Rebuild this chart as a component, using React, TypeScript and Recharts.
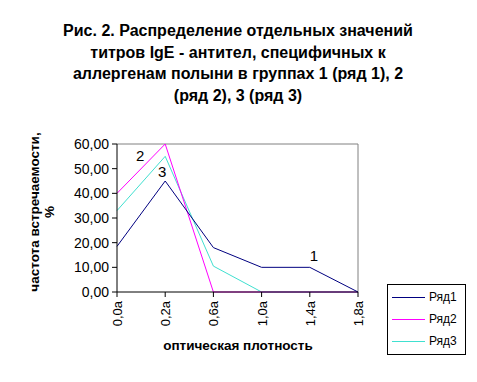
import React from "react";
import { LineChart, Line, XAxis, YAxis, ReferenceLine } from "recharts";

document.body.style.margin = "0";

const CATEGORIES = ["0,0a", "0,2a", "0,6a", "1,0a", "1,4a", "1,8a"];
const SERIES1 = [18.5, 45, 18, 10, 10, 0];
const SERIES2 = [40, 60, 0, 0, 0, 0];
const SERIES3 = [33, 55, 10.5, 0, 0, 0];
const Y_TICKS = [0, 10, 20, 30, 40, 50, 60];
const TITLE_LINES = [
  "Рис. 2. Распределение отдельных значений",
  "титров IgE - антител, специфичных к",
  "аллергенам полыни в группах 1 (ряд 1), 2",
  "(ряд 2), 3 (ряд 3)",
];

const NAVY = "#000080";
const MAGENTA = "#FF00FF";
const CYAN = "#40E0D0";
const FONT = "'Liberation Sans', Arial, sans-serif";

const LEGEND_ITEMS = [
  { name: "Ряд1", color: NAVY },
  { name: "Ряд2", color: MAGENTA },
  { name: "Ряд3", color: CYAN },
];

const data = CATEGORIES.map((c, i) => ({
  cat: c,
  r1: SERIES1[i],
  r2: SERIES2[i],
  r3: SERIES3[i],
}));

function XTick({ x, y, payload }: any) {
  return (
    <text
      x={x}
      y={y}
      transform={`rotate(-90 ${x} ${y})`}
      dx={-2}
      dy={5}
      textAnchor="end"
      fontSize={13}
      fontFamily={FONT}
      fill="#000"
    >
      {payload.value}
    </text>
  );
}

// series number drawn next to one point of its line
function pointLabel(text: string, at: number, dx: number, dy: number) {
  return (props: any) => {
    if (props.index !== at) return null;
    return (
      <text x={props.x + dx} y={props.y + dy} fontSize={15} fontFamily={FONT} fill="#000" textAnchor="middle">
        {text}
      </text>
    );
  };
}

function LegendBox() {
  return (
    <div
      style={{
        position: "absolute",
        left: 387,
        top: 284,
        width: 79,
        height: 71,
        border: "1px solid #000",
        boxSizing: "border-box",
        paddingTop: 1,
        fontFamily: FONT,
        fontSize: 12,
      }}
    >
      {LEGEND_ITEMS.map((p) => (
        <div key={p.name} style={{ display: "flex", alignItems: "center", height: 22 }}>
          <span style={{ display: "block", marginLeft: 4, width: 33, height: 1, background: p.color }} />
          <span style={{ marginLeft: 4 }}>{p.name}</span>
        </div>
      ))}
    </div>
  );
}

export default function App() {
  return (
    <div style={{ position: "relative", width: 477, height: 382, background: "#fff" }}>
      <LineChart width={477} height={382} data={data} margin={{ top: 144, right: 119, bottom: 50, left: 57 }}>
        <XAxis
          dataKey="cat"
          tick={<XTick />}
          tickSize={5}
          height={40}
          axisLine={{ stroke: "#000" }}
          tickLine={{ stroke: "#000" }}
          interval={0}
        />
        <YAxis
          domain={[0, 60]}
          ticks={Y_TICKS}
          width={60}
          tickSize={5}
          tickMargin={3}
          axisLine={{ stroke: "#000" }}
          tickLine={{ stroke: "#000" }}
          tick={{ fontSize: 14, fontFamily: FONT, fill: "#000" }}
          tickFormatter={(v: number) => v.toFixed(2).replace(".", ",")}
        />
        <ReferenceLine y={60} stroke="#808080" />
        <ReferenceLine x="1,8a" stroke="#808080" />
        <Line dataKey="r3" name="Ряд3" stroke={CYAN} strokeWidth={1} dot={false} isAnimationActive={false} label={pointLabel("3", 1, -3, 21)} />
        <Line dataKey="r2" name="Ряд2" stroke={MAGENTA} strokeWidth={1} dot={false} isAnimationActive={false} label={pointLabel("2", 1, -25, 17)} />
        <Line dataKey="r1" name="Ряд1" stroke={NAVY} strokeWidth={1} dot={false} isAnimationActive={false} label={pointLabel("1", 4, 4, -6)} />
        <text x={238} fontSize={16} fontWeight="bold" fontFamily={FONT} textAnchor="middle" fill="#000">
          {TITLE_LINES.map((t, i) => (
            <tspan key={i} x={238} y={36 + i * 21.5}>
              {t}
            </tspan>
          ))}
        </text>
        <text transform="rotate(-90)" fontSize={13.5} fontWeight="bold" fontFamily={FONT} textAnchor="middle" fill="#000">
          <tspan x={-212} y={39}>частота встречаемости,</tspan>
          <tspan x={-212} y={54}>%</tspan>
        </text>
        <text x={238} y={350} fontSize={13.5} fontWeight="bold" fontFamily={FONT} textAnchor="middle" fill="#000">
          оптическая плотность
        </text>
      </LineChart>
      <LegendBox />
    </div>
  );
}
